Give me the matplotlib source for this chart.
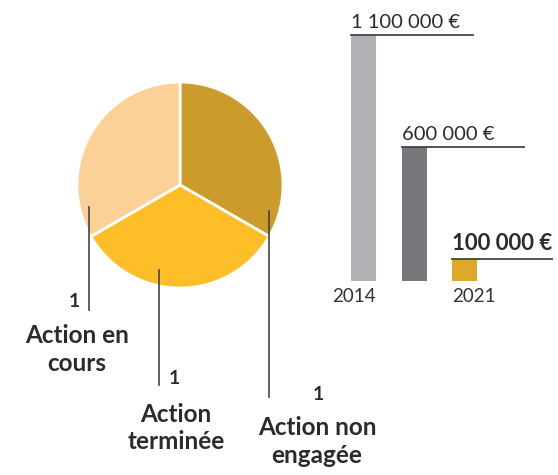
import matplotlib
matplotlib.use("Agg")
import matplotlib.pyplot as plt

plt.rcParams["font.family"] = ["Lato", "DejaVu Sans"]

# ----------
# Data
# ----------
pie_labels = ["Action non\nengagée", "Action\nterminée", "Action en\ncours"]
pie_values = [1, 1, 1]
pie_colors = ["#CB9B2C", "#FDBE27", "#FCD198"]

bar_years = ["2014", "", "2021"]
bar_values = [1100000, 600000, 100000]
bar_texts = ["1 100 000 €", "600 000 €", "100 000 €"]
bar_colors = ["#B1B2B5", "#77787B", "#E0A829"]

W, H = 558, 475
fig = plt.figure(figsize=(W / 100, H / 100), dpi=100)


def box(left, top, width, height):
    # pixel box -> figure fraction
    return [left / W, (H - top - height) / H, width / W, height / H]


# ----------
# Pie
# ----------
ax = fig.add_axes(box(77, 82, 206, 206))
ax.pie(pie_values, colors=pie_colors, startangle=90, counterclock=False,
       wedgeprops=dict(edgecolor="white", linewidth=2))
ax.set_xlim(-1, 1)
ax.set_ylim(-1, 1)
ax.set_aspect("equal")
ax.axis("off")

# leader lines (x, y top, y bottom) and label anchors, pie radius units
leaders = [(0.864, -0.25, -2.06), (-0.204, -0.83, -1.94), (-0.883, -0.21, -1.21)]
num_pos = [(1.34, -2.03), (-0.05, -1.88), (-1.03, -1.13)]
lab_pos = [(1.33, -2.49), (-0.04, -2.36), (-1.0, -1.60)]
for i in range(3):
    x, y0, y1 = leaders[i]
    ax.plot([x, x], [y0, y1], color="#444444", lw=1.2, clip_on=False)
    ax.text(num_pos[i][0], num_pos[i][1], str(pie_values[i]), ha="center",
            va="center", fontsize=14, fontweight="bold", color="#2b2b2b")
    ax.text(lab_pos[i][0], lab_pos[i][1], pie_labels[i], ha="center",
            va="center", fontsize=17.5, fontweight="bold", color="#2b2b2b",
            linespacing=1.25)

# ----------
# Bars
# ----------
bx = fig.add_axes(box(340, 35, 218, 246))
pos = list(range(len(bar_values)))
bw = 0.495
bx.bar(pos, bar_values, width=bw, color=bar_colors)
bx.set_xlim(-0.465, 3.85)
bx.set_ylim(0, 1100000)
bx.axis("off")

line_len = [2.42, 2.42, 1.98]
for i in pos:
    left = i - bw / 2
    bx.plot([left, left + line_len[i]], [bar_values[i]] * 2, color="#444444",
            lw=1.3, clip_on=False)
    bold = i == 2
    bx.annotate(bar_texts[i], (left, bar_values[i]), xytext=(0, 3),
                textcoords="offset points", ha="left", va="bottom",
                fontsize=16 if bold else 14.5,
                fontweight="bold" if bold else "normal", color="#2b2b2b")

bx.text(0 + bw / 2, -30000, bar_years[0], ha="right", va="top",
        fontsize=13.5, color="#333333")
bx.text(2 - bw / 2, -30000, bar_years[2], ha="left", va="top",
        fontsize=13.5, color="#333333")

fig.savefig("out.png", dpi=100)
